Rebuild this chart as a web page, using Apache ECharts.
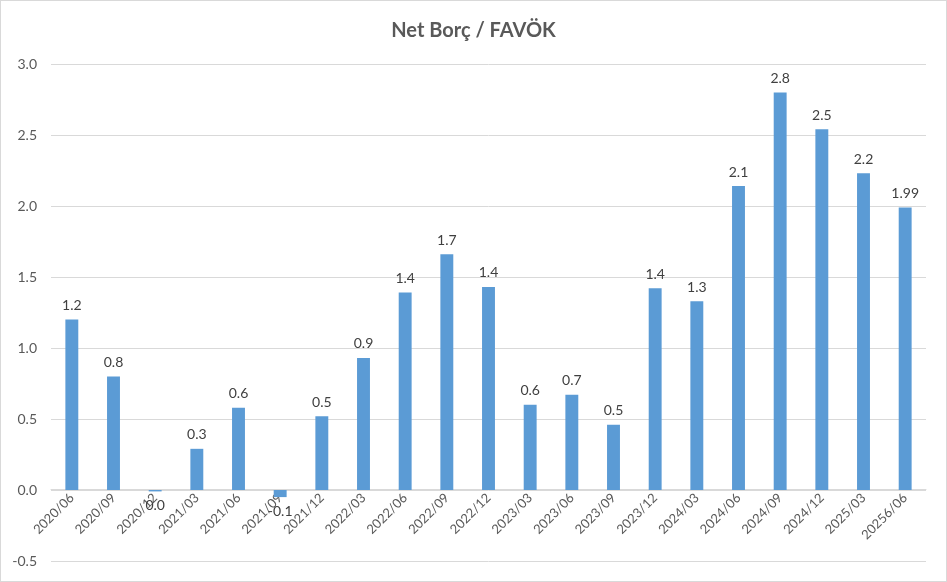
<!DOCTYPE html>
<html><head><meta charset="utf-8">
<script src="https://cdn.jsdelivr.net/npm/echarts@6/dist/echarts.min.js"></script>
<style>html,body{margin:0;padding:0;background:#fff}#c{width:947px;height:582px;box-sizing:border-box;border:1px solid #d9d9d9}</style>
</head><body><div id="c"></div>
<script>
const titleText = "Net Borç / FAVÖK";
const categories = ["2020/06","2020/09","2020/12","2021/03","2021/06","2021/09","2021/12","2022/03","2022/06","2022/09","2022/12","2023/03","2023/06","2023/09","2023/12","2024/03","2024/06","2024/09","2024/12","2025/03","20256/06"];
const values = [1.20,0.80,-0.01,0.29,0.58,-0.05,0.52,0.93,1.39,1.66,1.43,0.60,0.67,0.46,1.42,1.33,2.14,2.80,2.54,2.23,1.99];
const valueLabels = ["1.2","0.8","0.0","0.3","0.6","-0.1","0.5","0.9","1.4","1.7","1.4","0.6","0.7","0.5","1.4","1.3","2.1","2.8","2.5","2.2","1.99"];
const yMin = -0.5, yMax = 3.0, yStep = 0.5;

const FONT = "Lato, 'Open Sans', sans-serif";
const gridTop = 63, gridBottom = 20;
const plotH = 582 - gridTop - gridBottom;
const zeroOffset = -plotH * (0 - yMin) / (yMax - yMin);
const chart = echarts.init(document.getElementById('c'), null, {renderer:'canvas'});
chart.setOption({
  animation:false,
  title:{text:titleText,left:'center',top:15,textStyle:{fontFamily:FONT,fontSize:20,fontWeight:'bold',color:'#595959'}},
  grid:{left:50,right:20,top:gridTop,bottom:gridBottom,containLabel:false,outerBoundsMode:'none'},
  xAxis:{type:'category',data:categories,offset:zeroOffset,
    axisLine:{onZero:false,lineStyle:{color:'#d9d9d9',width:1}},
    axisTick:{show:false},
    axisLabel:{rotate:45,interval:0,fontFamily:FONT,fontSize:13,color:'#595959',margin:6}},
  yAxis:{type:'value',min:yMin,max:yMax,interval:yStep,
    axisLine:{show:false},axisTick:{show:false},
    splitLine:{lineStyle:{color:'#d9d9d9',width:1}},
    axisLabel:{fontFamily:FONT,fontSize:14,color:'#595959',margin:14,formatter:v=>v.toFixed(1)}},
  series:[{type:'bar',barWidth:'31%',
    itemStyle:{color:'#5b9bd5'},
    data:values.map((v,i)=>({value:v,label:{position:v<0?'bottom':'top',formatter:valueLabels[i]}})),
    label:{show:true,distance:7,fontFamily:FONT,fontSize:14,color:'#404040'}}]
});
</script></body></html>
